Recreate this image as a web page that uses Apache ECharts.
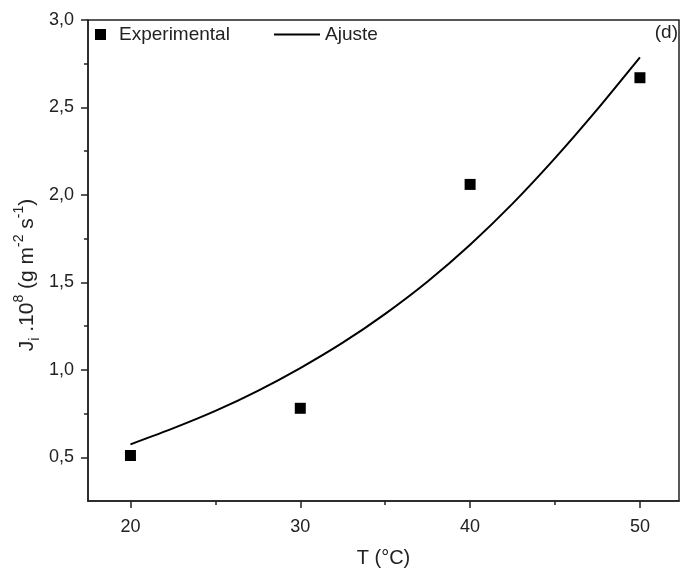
<!DOCTYPE html>
<html>
<head>
<meta charset="utf-8">
<script src="https://cdn.jsdelivr.net/npm/echarts@6/dist/echarts.min.js"></script>
<style>html,body{margin:0;padding:0;background:#fff}#c{width:682px;height:570px}</style>
</head>
<body>
<div id="c"></div>
<script>
// Experimental points
const expT = [20, 30, 40, 50];
const expJ = [0.51, 0.78, 2.06, 2.67];
// Fitted curve
const fitT = [20, 22.5, 25, 27.5, 30, 32.5, 35, 37.5, 40, 42.5, 45, 47.5, 50];
const fitJ = [0.574, 0.665, 0.765, 0.88, 1.01, 1.155, 1.32, 1.505, 1.715, 1.95, 2.21, 2.49, 2.786];
// Ticks
const xMajor = [20, 30, 40, 50];
const xMinor = [25, 35, 45];
const yMajor = [0.5, 1.0, 1.5, 2.0, 2.5, 3.0];
const yMinor = [0.75, 1.25, 1.75, 2.25, 2.75];

const FONT = 'Liberation Sans';
const axisColor = '#222';
const txt = '#222';
const chart = echarts.init(document.getElementById('c'));
const fmt = v => v.toFixed(1).replace('.', ',');

chart.setOption({
  animation: false,
  textStyle: { fontFamily: FONT },
  grid: { left: 88, right: 3, top: 20, bottom: 69, show: true, borderColor: axisColor, borderWidth: 1.5,
          backgroundColor: 'transparent', containLabel: false, outerBoundsMode: 'none' },
  legend: [
    { data: [{ name: 'Experimental', icon: 'rect' }], left: 90, top: 20, itemWidth: 11, itemHeight: 11, itemGap: 10,
      textStyle: { fontSize: 19, color: txt, fontFamily: FONT, padding: [0,0,0,8] } },
    { data: [{ name: 'Ajuste', icon: 'rect' }], left: 269, top: 20, itemWidth: 46, itemHeight: 2, itemGap: 4,
      textStyle: { fontSize: 19, color: txt, fontFamily: FONT, padding: [0,0,0,0] } }
  ],
  graphic: [
    { type: 'text', right: 4, top: 23, style: { text: '(d)', font: '19px "Liberation Sans"', fill: txt } },
    { type: 'text', x: 27, y: 275, rotation: Math.PI / 2,
      style: {
        text: '{n|J}{sub|i}{n| .10}{sup|8}{n| (g m}{sup|-2}{n| s}{sup|-1}{n|)}',
        font: '21px "Liberation Sans"', fontSize: 21,
        align: 'center', verticalAlign: 'middle',
        rich: {
          n: { font: '21px "Liberation Sans"', fontSize: 21, fill: txt, lineHeight: 32 },
          sub: { font: '14px "Liberation Sans"', fontSize: 14, fill: txt, lineHeight: 32, padding: [17, 0, 0, 0] },
          sup: { font: '14px "Liberation Sans"', fontSize: 14, fill: txt, lineHeight: 32, padding: [0, 0, 15, 0] }
        }
      } }
  ],
  xAxis: [
    { type: 'value', min: 17.5, max: 52.3, position: 'bottom',
      name: 'T (°C)', nameLocation: 'middle', nameGap: 47,
      nameTextStyle: { fontSize: 20, color: txt, fontFamily: FONT },
      axisLine: { show: true, onZero: false, lineStyle: { color: axisColor, width: 1.5 } },
      axisTick: { show: true, length: 7, lineStyle: { color: axisColor, width: 1.5 }, customValues: xMajor },
      axisLabel: { customValues: xMajor, margin: 17, fontSize: 18, color: txt, fontFamily: FONT },
      splitLine: { show: false } },
    { type: 'value', min: 17.5, max: 52.3, position: 'bottom',
      axisLine: { show: false, onZero: false },
      axisTick: { show: true, length: 4, lineStyle: { color: axisColor, width: 1.5 }, customValues: xMinor },
      axisLabel: { show: false },
      splitLine: { show: false } }
  ],
  yAxis: [
    { type: 'value', min: 0.25, max: 3.0, position: 'left',
      axisLine: { show: true, onZero: false, lineStyle: { color: axisColor, width: 1.5 } },
      axisTick: { show: true, length: 7, lineStyle: { color: axisColor, width: 1.5 }, customValues: yMajor },
      axisLabel: { customValues: yMajor, margin: 14, fontSize: 18, color: txt, fontFamily: FONT, formatter: fmt },
      splitLine: { show: false } },
    { type: 'value', min: 0.25, max: 3.0, position: 'left',
      axisLine: { show: false, onZero: false },
      axisTick: { show: true, length: 4, lineStyle: { color: axisColor, width: 1.5 }, customValues: yMinor },
      axisLabel: { show: false },
      splitLine: { show: false } }
  ],
  series: [
    { name: 'Experimental', type: 'scatter', xAxisIndex: 0, yAxisIndex: 0,
      symbol: 'rect', symbolSize: 11, itemStyle: { color: '#000', opacity: 1 },
      data: expT.map((t, i) => [t, expJ[i]]) },
    { name: 'Ajuste', type: 'line', xAxisIndex: 0, yAxisIndex: 0,
      symbol: 'none', smooth: 0.2,
      lineStyle: { color: '#000', width: 2 }, itemStyle: { color: '#000' },
      data: fitT.map((t, i) => [t, fitJ[i]]) }
  ]
});
</script>
</body>
</html>
